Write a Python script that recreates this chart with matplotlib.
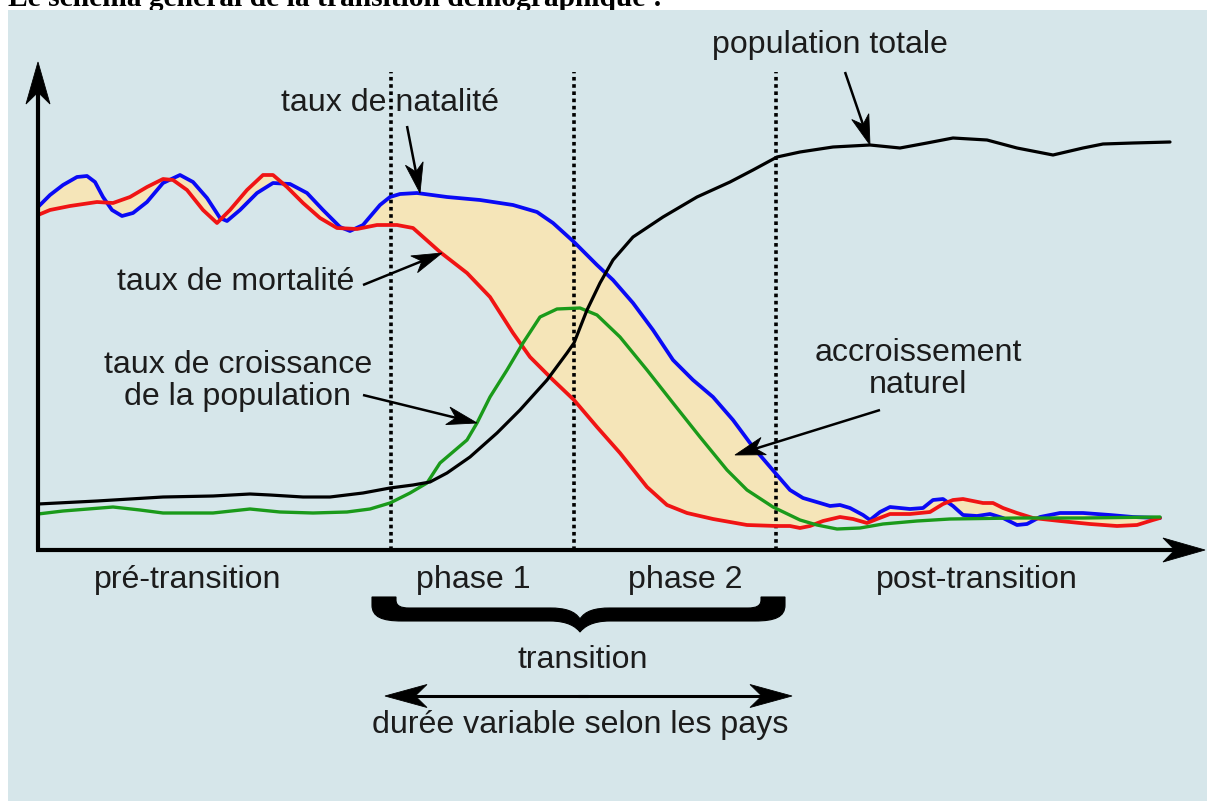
import matplotlib
matplotlib.use('Agg')
import matplotlib.pyplot as plt
from matplotlib.path import Path
from matplotlib.patches import PathPatch, Polygon, Rectangle
import numpy as np

# ---------------- data (time t, level v) ----------------
birth_t = [0, 12, 25, 39, 49, 57, 65, 74, 84, 95, 109, 125, 142, 155, 169, 182, 189, 202, 219, 235,
           252, 269, 285, 302, 312, 325, 342, 352, 362, 379, 409, 442, 475, 499, 515, 536, 559, 575, 595, 615,
           635, 655, 675, 695, 715, 739, 752, 765, 782, 792, 802, 812, 825, 832, 842, 852, 872, 885, 895, 905,
           915, 925, 939, 952, 965, 979, 989, 1002, 1022, 1045, 1072, 1095, 1122]
birth_v = [343, 355, 365, 373, 374, 368, 353, 340, 334, 337, 348, 367, 375, 368, 352, 332, 329, 340, 357, 367,
           366, 357, 340, 323, 319, 325, 345, 353, 356, 357, 353, 350, 345, 338, 327, 308, 285, 270, 247, 220,
           190, 170, 153, 130, 103, 75, 60, 52, 47, 44, 45, 42, 35, 30, 38, 43, 41, 42, 50, 51,
           44, 35, 34, 36, 32, 25, 26, 33, 37, 37, 35, 33, 32]

death_t = [0, 12, 32, 59, 75, 92, 109, 125, 135, 149, 165, 179, 192, 209, 225, 235, 249, 265, 282, 299,
           319, 339, 359, 375, 402, 429, 452, 475, 492, 515, 536, 559, 582, 609, 629, 649, 675, 709, 739, 752,
           762, 772, 785, 802, 815, 829, 839, 852, 872, 892, 905, 915, 925, 945, 955, 965, 979, 995, 1022, 1052,
           1079, 1099, 1115, 1122]
death_v = [335, 340, 344, 348, 347, 353, 363, 371, 370, 360, 340, 327, 340, 360, 375, 375, 363, 347, 332, 322,
           321, 325, 325, 322, 298, 277, 253, 217, 193, 170, 150, 123, 97, 63, 45, 37, 31, 25, 24, 24,
           22, 24, 29, 33, 31, 27, 31, 36, 36, 38, 46, 50, 51, 47, 47, 42, 37, 32, 29, 26,
           24, 25, 30, 32]

growth_t = [0, 25, 75, 102, 125, 175, 212, 242, 275, 309, 332, 352, 372, 389, 402, 429, 439, 452, 469, 485,
            502, 519, 542, 559, 582, 609, 635, 662, 689, 709, 735, 762, 779, 799, 822, 845, 879, 912, 979, 1045,
            1122]
growth_v = [36, 39, 43, 40, 37, 37, 41, 38, 37, 38, 41, 47, 57, 67, 87, 110, 127, 153, 180, 207,
            233, 241, 242, 235, 213, 180, 147, 113, 80, 60, 43, 30, 25, 21, 22, 26, 29, 31, 32, 32,
            33]

pop_t = [0, 59, 125, 175, 212, 232, 265, 292, 325, 352, 375, 392, 409, 432, 459, 482, 509, 529, 536, 549,
         562, 575, 595, 625, 659, 692, 715, 739, 762, 795, 832, 862, 889, 915, 949, 979, 1015, 1045, 1065, 1095,
         1132]
pop_v = [46, 49, 53, 54, 56, 55, 53, 53, 57, 62, 65, 68, 77, 93, 117, 140, 170, 197, 207, 240,
         267, 290, 313, 333, 353, 368, 380, 393, 398, 403, 405, 402, 407, 412, 410, 402, 395, 402, 406, 407,
         408]

phase_bounds = [353, 536, 738]
phase_labels = ['pré-transition', 'phase 1', 'phase 2', 'post-transition']
phase_label_t = [150, 435, 647, 939]

title = 'Le schéma général de la transition démographique :'

# ---------------- style ----------------
BG = '#d6e6ea'
FILL = '#f5e5b8'
BLUE = '#0a0af5'
RED = '#f01414'
GREEN = '#1a9a1a'
TXT = '#1c1c1c'
FONT = 'Liberation Sans'

fig = plt.figure(figsize=(12.07, 8.01), dpi=100)
fig.patch.set_facecolor('white')
ax = fig.add_axes([0, 0, 1, 1])
ax.set_xlim(-38, 1169)
ax.set_ylim(-251, 550)
ax.axis('off')

ax.add_patch(Rectangle((-30, -260), 1210, 800, fc=BG, ec='none', zorder=1))

# title (partly hidden by the background panel, as in the reference)
tt = ax.text(-30, 544, title, fontsize=18, fontweight='bold', family='Liberation Serif',
             color='black', ha='left', va='baseline', zorder=0.5)
fig.canvas.draw()
w = tt.get_window_extent().width
tt.set_fontsize(18 * 654 / w)

# label font size fitted to the reference width of one label
probe = ax.text(0, 0, 'durée variable selon les pays', fontsize=20, family=FONT)
fig.canvas.draw()
FS = 20 * 416 / probe.get_window_extent().width
probe.remove()


def stealth(start, end, lw=1.8, hl=30, hw=18, color='black', z=6):
    s = np.array(start, float)
    e = np.array(end, float)
    d = e - s
    u = d / np.hypot(*d)
    n = np.array([-u[1], u[0]])
    back = e - u * hl
    notch = e - u * hl * 0.72
    ax.plot([s[0], notch[0] + u[0] * 3], [s[1], notch[1] + u[1] * 3], color=color, lw=lw,
            solid_capstyle='butt', zorder=z)
    ax.add_patch(Polygon([e, back + n * hw / 2, notch, back - n * hw / 2], closed=True,
                         fc=color, ec=color, lw=0.6, zorder=z))


# fill between birth and death rates
ax.fill(np.r_[birth_t, death_t[::-1]], np.r_[birth_v, death_v[::-1]], color=FILL, lw=0, zorder=2)

# phase separators
for b in phase_bounds:
    ax.plot([b, b], [0, 478], color='black', lw=2.6, ls=(0, (1, 1.0)), zorder=3)

# curves
ax.plot(birth_t, birth_v, color=BLUE, lw=2.7, solid_joinstyle='round', solid_capstyle='round', zorder=4)
ax.plot(death_t, death_v, color=RED, lw=2.7, solid_joinstyle='round', solid_capstyle='round', zorder=4)
ax.plot(growth_t, growth_v, color=GREEN, lw=2.4, solid_joinstyle='round', solid_capstyle='round', zorder=4)
ax.plot(pop_t, pop_v, color='black', lw=2.3, solid_joinstyle='round', solid_capstyle='round', zorder=4.5)

# axes with arrows
stealth((0, 0), (0, 488), lw=3, hl=42, hw=24)
stealth((-2, 0), (1167, 0), lw=3, hl=42, hw=24)

# annotations
def label(x, y, s, **kw):
    ax.text(x, y, s, fontsize=FS, family=FONT, color=TXT, ha='center', va='center', zorder=7,
            linespacing=1.1, **kw)

label(352, 447, 'taux de natalité')
stealth((369, 424), (382, 357))
label(198, 268, 'taux de mortalité')
stealth((325, 265), (404, 297))
label(200, 169, 'taux de croissance\nde la population')
stealth((325, 155), (439, 127))
label(880, 181, 'accroissement\nnaturel')
stealth((842, 140), (697, 95))
label(792, 505, 'population totale')
stealth((807, 478), (832, 405))

for s, x in zip(phase_labels, phase_label_t):
    label(x, -30, s)

# brace under the transition phases
L = phase_bounds[0] - 19
R = phase_bounds[2] + 9
M = 542
T = -47
verts = [(L, T), (L, T - 8), (L, T - 20), (L + 10, T - 24), (L + 30, T - 24),
         (M - 30, T - 24), (M - 12, T - 24), (M - 4, T - 30), (M, T - 35),
         (M + 4, T - 30), (M + 12, T - 24), (M + 30, T - 24),
         (R - 30, T - 24), (R - 10, T - 24), (R, T - 20), (R, T - 8),
         (R, T), (R - 24, T), (R - 24, T - 3), (R - 24, T - 9), (R - 29, T - 11), (R - 37, T - 11),
         (M + 30, T - 11), (M + 15, T - 11), (M + 5, T - 14), (M, T - 22),
         (M - 5, T - 14), (M - 15, T - 11), (M - 30, T - 11),
         (L + 37, T - 11), (L + 29, T - 11), (L + 24, T - 9), (L + 24, T - 3),
         (L + 24, T), (L, T)]
codes = [Path.MOVETO, Path.LINETO, Path.CURVE4, Path.CURVE4, Path.CURVE4,
         Path.LINETO, Path.CURVE4, Path.CURVE4, Path.CURVE4,
         Path.CURVE4, Path.CURVE4, Path.CURVE4,
         Path.LINETO, Path.CURVE4, Path.CURVE4, Path.CURVE4,
         Path.LINETO, Path.LINETO, Path.LINETO, Path.CURVE4, Path.CURVE4, Path.CURVE4,
         Path.LINETO, Path.CURVE4, Path.CURVE4, Path.CURVE4,
         Path.CURVE4, Path.CURVE4, Path.CURVE4,
         Path.LINETO, Path.CURVE4, Path.CURVE4, Path.CURVE4,
         Path.LINETO, Path.CLOSEPOLY]
ax.add_patch(PathPatch(Path(verts, codes), fc='black', ec='black', lw=0.8, zorder=6))

label(545, -110, 'transition')
stealth((550, -146), (347, -146), lw=2.2, hl=42, hw=23)
stealth((540, -146), (754, -146), lw=2.2, hl=42, hw=23)
label(542, -175, 'durée variable selon les pays')

fig.savefig('out.png', dpi=100, facecolor='white')
